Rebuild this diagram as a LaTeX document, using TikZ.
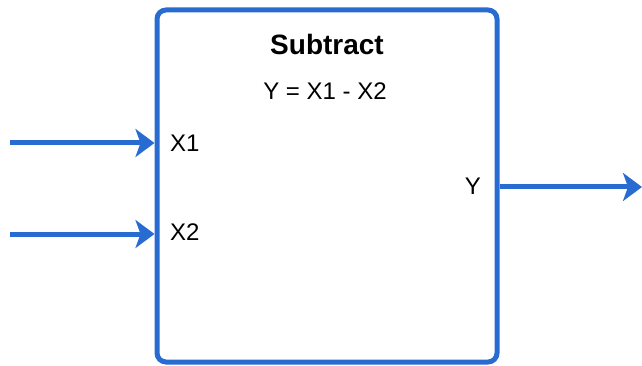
\documentclass[tikz,border=0pt]{standalone}
\usepackage{fontspec}
\setmainfont{Liberation Sans}
\usetikzlibrary{arrows.meta}

\definecolor{wireblue}{RGB}{40,108,210}
\tikzset{
  wire/.style={wireblue, line width=5pt, -{Stealth[length=19pt,width=28pt,inset=5pt]}},
  portlabel/.style={font=\fontsize{24}{28}\selectfont, inner sep=0pt},
}

\begin{document}
\begin{tikzpicture}[x=1pt,y=-1pt]
\useasboundingbox (0,0) rectangle (642,366);

% Subtract block
\node[draw=wireblue, line width=5pt, rounded corners=9pt, minimum width=340pt,
      minimum height=352pt, inner sep=0pt] (block) at (327,186) {};

% Title and equation
\node[font=\bfseries\fontsize{28}{32}\selectfont, inner sep=0pt, anchor=base] (title) at (327,55) {Subtract};
\node[portlabel, anchor=base] (eqn) at (325,100) {Y = X1 - X2};

% Ports
\node[portlabel, anchor=base west] (x1) at (170,152) {X1};
\node[portlabel, anchor=base west] (x2) at (170,240) {X2};
\node[portlabel, anchor=base east] (y) at (481,195) {Y};

% Connectors
\coordinate (in1) at (10,143);
\coordinate (in2) at (10,234);
\coordinate (out) at (642,187);
\draw[wire] (in1) -- (block.west |- in1);
\draw[wire] (in2) -- (block.west |- in2);
\draw[wire] (block.east |- out) -- (out);

\end{tikzpicture}
\end{document}
